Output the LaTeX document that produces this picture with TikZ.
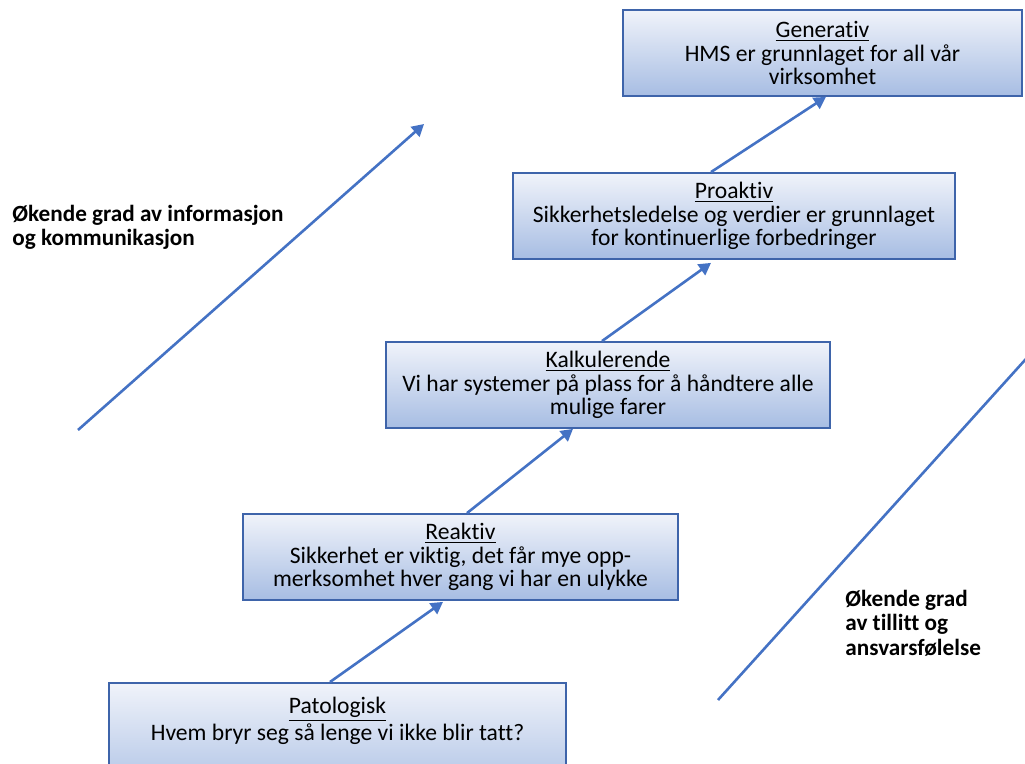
\documentclass[tikz,border=0pt]{standalone}
\usepackage{fontspec}
\setmainfont{Carlito}[Ligatures=NoCommon]
\usetikzlibrary{positioning, arrows.meta, calc}

\definecolor{boxline}{HTML}{3E64AA}
\definecolor{boxtop}{HTML}{F0F3FA}
\definecolor{boxbottom}{HTML}{A7BDE3}
\definecolor{arrowblue}{HTML}{4472C4}

\begin{document}
\begin{tikzpicture}[
  x=0.5pt, y=-0.5pt,
  font=\fontsize{11.8}{11.7}\selectfont,
  stage/.style={draw=boxline, line width=0.9pt, top color=boxtop, bottom color=boxbottom,
    align=center, minimum height=43pt, inner sep=0pt},
  stagetext/.style={align=center, inner sep=0pt},
  climb/.style={-{Triangle[length=6pt, width=6.5pt]}, draw=arrowblue, line width=1.3pt},
  trend/.style={draw=arrowblue, line width=1.3pt},
  side/.style={font=\fontsize{11.6}{12.3}\selectfont\bfseries, align=left, inner sep=0pt}
]
\clip (0,0) rectangle (1025,764);

% the five steps, lowest level at the bottom
\node[stage, minimum width=228.5pt, minimum height=60pt, anchor=north] (pato) at (337.5,682) {};
\node[stagetext, anchor=north] (patotxt) at ([yshift=-7.5pt]pato.north)
  {\underline{Patologisk}\\Hvem bryr seg så lenge vi ikke blir tatt?};
\node[stage, minimum width=217.5pt] (rea) at (460.5,557)
  {\underline{Reaktiv}\\Sikkerhet er viktig, det får mye opp-\\merksomhet hver gang vi har en ulykke};
\node[stage, minimum width=222pt] (kal) at (608,385)
  {\underline{Kalkulerende}\\Vi har systemer på plass for å håndtere alle\\mulige farer};
\node[stage, minimum width=221pt] (pro) at (734,216)
  {\underline{Proaktiv}\\Sikkerhetsledelse og verdier er grunnlaget\\for kontinuerlige forbedringer};
\node[stage, minimum width=199.5pt] (gen) at (822.5,53)
  {\underline{Generativ}\\HMS er grunnlaget for all vår\\virksomhet};

% steps up
\draw[climb] ([xshift=-3.75pt]pato.north) -- ([xshift=-8.75pt, yshift=-0.5pt]rea.south);
\draw[climb] ([xshift=3.25pt]rea.north) -- ([xshift=-17.5pt]kal.south);
\draw[climb] ([xshift=-3pt]kal.north) -- ([xshift=-11.5pt, yshift=-1.5pt]pro.south);
\draw[climb] ([xshift=-11.5pt]pro.north) -- ([xshift=1.75pt]gen.south);

% the two long trends
\coordinate (infofoot) at (78,430);
\coordinate (infohead) at (424,124);
\draw[climb] (infofoot) -- (infohead);
\coordinate (trustfoot) at (718,700);
\coordinate (trusthead) at (1040,343.4);
\draw[trend] (trustfoot) -- (trusthead);

\node[side, anchor=west] (infolabel) at (12,227.5)
  {Økende grad av informasjon\\og kommunikasjon};
\node[side, anchor=west] (trustlabel) at (845,623)
  {Økende grad\\av tillitt og\\ansvarsfølelse};

\end{tikzpicture}
\end{document}
